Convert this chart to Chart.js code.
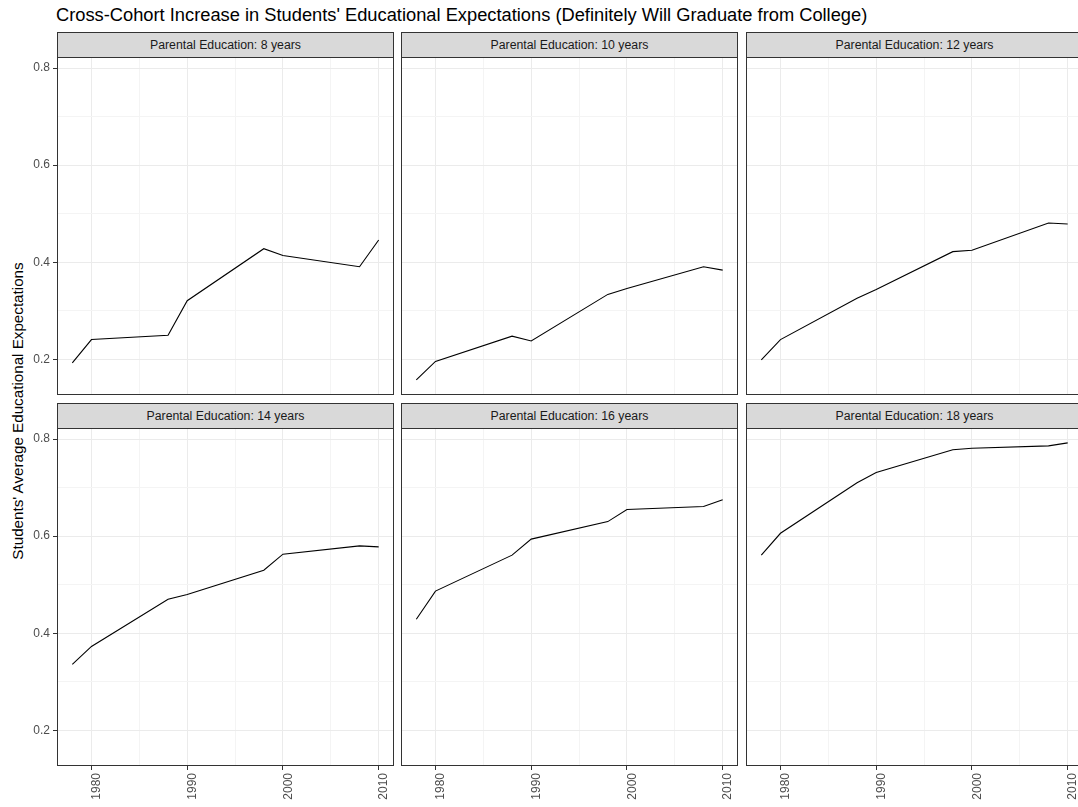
<!DOCTYPE html>
<html>
<head>
<meta charset="utf-8">
<script src="https://cdn.jsdelivr.net/npm/chart.js@4.4.1/dist/chart.umd.min.js"></script>
<style>
  html, body { margin: 0; padding: 0; background: #fff; }
  body { width: 1078px; height: 807px; overflow: hidden; position: relative;
         font-family: "Liberation Sans", Arial, sans-serif; }
  .title { position: absolute; left: 56px; top: 6px; font-size: 18.3px; line-height: 1; color: #000; white-space: nowrap; }
  .ytitle { position: absolute; left: 17.5px; top: 411px; transform: translate(-50%, -50%) rotate(-90deg);
            font-size: 15.2px; line-height: 1; color: #000; white-space: nowrap; }
  .strip { position: absolute; background: #D9D9D9; border: 1px solid #333; box-sizing: border-box;
           font-size: 12.3px; color: #1A1A1A; text-align: center; line-height: 24px; white-space: nowrap; }
  canvas { position: absolute; }
</style>
</head>
<body>
<div class="title">Cross-Cohort Increase in Students' Educational Expectations (Definitely Will Graduate from College)</div>
<div class="ytitle">Students' Average Educational Expectations</div>
<script>
// ---- data ----
const years = [1978, 1980, 1988, 1990, 1998, 2000, 2008, 2010];
const panelLabels = [
  "Parental Education: 8 years", "Parental Education: 10 years", "Parental Education: 12 years",
  "Parental Education: 14 years", "Parental Education: 16 years", "Parental Education: 18 years"
];
const pe8  = [0.193, 0.241, 0.250, 0.321, 0.428, 0.414, 0.391, 0.446];
const pe10 = [0.158, 0.196, 0.248, 0.238, 0.334, 0.346, 0.391, 0.384];
const pe12 = [0.199, 0.241, 0.326, 0.344, 0.422, 0.425, 0.481, 0.479];
const pe14 = [0.336, 0.373, 0.470, 0.480, 0.530, 0.563, 0.580, 0.578];
const pe16 = [0.429, 0.487, 0.561, 0.594, 0.630, 0.655, 0.661, 0.675];
const pe18 = [0.561, 0.606, 0.710, 0.731, 0.778, 0.781, 0.786, 0.792];
const xTicks = [1980, 1990, 2000, 2010];
const xMinor = [1985, 1995, 2005];
const yTicks = [0.2, 0.4, 0.6, 0.8];
const yMinor = [0.3, 0.5, 0.7];
const xRange = [1976.4, 2011.6];
const yRange = [0.1269, 0.8227];

// ---- layout ----
const series = [pe8, pe10, pe12, pe14, pe16, pe18];
const colLeft = [57, 401, 746];
const rowTop = [57, 428];
const plotW = 337, plotH = 338;
const stripH = 25;
const yAxisW = 57, xAxisH = 41;

function tickList(major, minor) {
  return major.map(v => ({ value: v, mj: true }))
    .concat(minor.map(v => ({ value: v, mj: false })))
    .sort((a, b) => a.value - b.value);
}

const borderPlugin = {
  id: 'panelBorder',
  afterDraw(chart) {
    const a = chart.chartArea, ctx = chart.ctx;
    ctx.save();
    ctx.strokeStyle = '#333333';
    ctx.lineWidth = 1;
    ctx.strokeRect(a.left + 0.5, a.top + 0.5, a.right - a.left - 1, a.bottom - a.top - 1);
    ctx.restore();
  }
};

const tickFont = { family: '"Liberation Sans", Arial, sans-serif', size: 12 };

series.forEach((vals, idx) => {
  const c = idx % 3, r = Math.floor(idx / 3);
  const yW = c === 0 ? yAxisW : 0;
  const xH = r === 1 ? xAxisH : 0;
  const w = yW + plotW, h = plotH + xH;
  const left = colLeft[c] - yW, top = rowTop[r];

  const strip = document.createElement('div');
  strip.className = 'strip';
  strip.style.left = colLeft[c] + 'px';
  strip.style.top = (rowTop[r] - stripH) + 'px';
  strip.style.width = plotW + 'px';
  strip.style.height = (stripH + 1) + 'px';
  strip.textContent = panelLabels[idx];
  document.body.appendChild(strip);

  const cv = document.createElement('canvas');
  cv.width = w; cv.height = h;
  cv.style.left = left + 'px'; cv.style.top = top + 'px';
  cv.style.width = w + 'px'; cv.style.height = h + 'px';
  document.body.appendChild(cv);

  new Chart(cv, {
    type: 'line',
    data: {
      datasets: [{
        data: years.map((yr, i) => ({ x: yr, y: vals[i] })),
        borderColor: '#000000', borderWidth: 1.1, pointRadius: 0, tension: 0, fill: false
      }]
    },
    options: {
      responsive: false, animation: false, events: [],
      layout: { padding: 0 },
      plugins: { legend: { display: false }, tooltip: { enabled: false }, title: { display: false } },
      scales: {
        x: {
          type: 'linear', min: xRange[0], max: xRange[1],
          afterBuildTicks: s => { s.ticks = tickList(xTicks, xMinor); },
          afterFit: s => { s.height = xH; s.paddingLeft = 0; s.paddingRight = 0; s.paddingTop = 0; s.paddingBottom = 0; },
          border: { display: false },
          grid: {
            color: ctx => (ctx.tick && ctx.tick.mj) ? '#EBEBEB' : '#F4F4F4',
            lineWidth: 1,
            drawTicks: r === 1,
            tickLength: 4,
            tickColor: ctx => (ctx.tick && ctx.tick.mj) ? '#333333' : 'rgba(0,0,0,0)',
            tickWidth: 1
          },
          ticks: {
            display: r === 1, autoSkip: false, minRotation: 90, maxRotation: 90,
            padding: 3, labelOffset: 5.5, color: '#4D4D4D', font: tickFont,
            callback: (v, i, t) => (t[i] && t[i].mj) ? String(v) : ''
          }
        },
        y: {
          type: 'linear', min: yRange[0], max: yRange[1],
          afterBuildTicks: s => { s.ticks = tickList(yTicks, yMinor); },
          afterFit: s => { s.width = yW; s.paddingTop = 0; s.paddingBottom = 0; s.paddingLeft = 0; s.paddingRight = 0; },
          border: { display: false },
          grid: {
            color: ctx => (ctx.tick && ctx.tick.mj) ? '#EBEBEB' : '#F4F4F4',
            lineWidth: 1,
            drawTicks: c === 0,
            tickLength: 4,
            tickColor: ctx => (ctx.tick && ctx.tick.mj) ? '#333333' : 'rgba(0,0,0,0)',
            tickWidth: 1
          },
          ticks: {
            display: c === 0, autoSkip: false, padding: 3, color: '#4D4D4D', font: tickFont,
            callback: (v, i, t) => (t[i] && t[i].mj) ? String(v) : ''
          }
        }
      }
    },
    plugins: [borderPlugin]
  });
});
</script>
</body>
</html>
